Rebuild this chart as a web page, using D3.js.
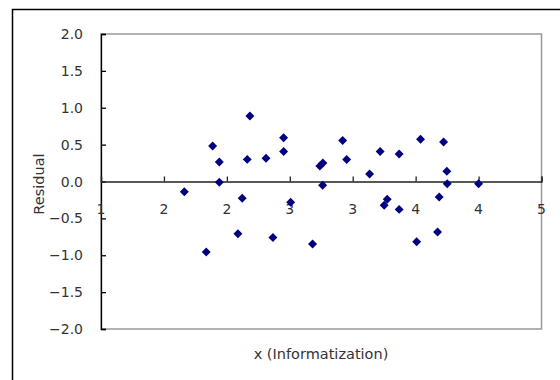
<!DOCTYPE html>
<html>
<head>
<meta charset="utf-8">
<script src="https://cdn.jsdelivr.net/npm/d3@7"></script>
<style>
  html, body { margin: 0; padding: 0; background: #fff; }
  svg { display: block; }
  text { font-family: "DejaVu Sans", Arial, sans-serif; fill: #333; }
</style>
</head>
<body>
<svg id="chart" width="560" height="380"></svg>
<script>
// residual plot data
const xValues = [1.662, 1.836, 1.887, 1.940, 1.940, 2.088, 2.122, 2.162, 2.183, 2.311,
                 2.366, 2.451, 2.451, 2.507, 2.681, 2.739, 2.763, 2.761, 2.920, 2.952,
                 3.134, 3.218, 3.250, 3.274, 3.369, 3.369, 3.508, 3.539, 3.674, 3.687,
                 3.722, 3.748, 3.751, 4.000];
const residuals = [-0.138, -0.955, 0.481, 0.264, -0.011, -0.708, -0.227, 0.300, 0.888, 0.314,
                   -0.759, 0.593, 0.408, -0.281, -0.847, 0.210, 0.251, -0.051, 0.556, 0.298,
                   0.102, 0.408, -0.322, -0.241, 0.373, -0.378, -0.816, 0.573, -0.685, -0.210,
                   0.536, 0.139, -0.030, -0.030];
const xTicks = [1, 1.5, 2, 2.5, 3, 3.5, 4, 4.5];
const yTicks = [-2, -1.5, -1, -0.5, 0, 0.5, 1, 1.5, 2];
const xTitle = "x (Informatization)";
const yTitle = "Residual";

const svg = d3.select("#chart");
const plot = {left: 101, right: 541.5, top: 34, bottom: 329};

const x = d3.scaleLinear().domain([1, 4.5]).range([plot.left, plot.right]);
const y = d3.scaleLinear().domain([-2, 2]).range([plot.bottom, plot.top]);

// outer chart frame (runs off the window right and bottom)
svg.append("path")
    .attr("d", "M12.5,390 L12.5,9.5 L570,9.5")
    .attr("fill", "none")
    .attr("stroke", "#000")
    .attr("stroke-width", 1.5);

// plot area border
svg.append("rect")
    .attr("x", plot.left)
    .attr("y", plot.top)
    .attr("width", plot.right - plot.left)
    .attr("height", plot.bottom - plot.top)
    .attr("fill", "none")
    .attr("stroke", "#999")
    .attr("stroke-width", 1.5);

// y axis, ticks pointing into the plot
let yAxis = svg.append("g")
    .attr("transform", "translate(" + plot.left + ",0)")
    .call(d3.axisRight(y).tickValues(yTicks).tickSize(5).tickFormat(""));
yAxis.selectAll("path, line").attr("stroke", "#000").attr("stroke-width", 1.3);

svg.append("g").selectAll("text")
    .data(yTicks)
    .enter().append("text")
    .attr("x", 83)
    .attr("y", d => y(d) + 5)
    .attr("text-anchor", "end")
    .attr("font-size", 14)
    .text(d => d3.format(".1f")(d).replace("-", "\u2212"));

// x axis drawn at residual = 0, ticks upward, labels rounded like the source
let xAxis = svg.append("g")
    .attr("transform", "translate(0," + y(0) + ")")
    .call(d3.axisTop(x).tickValues(xTicks).tickSize(5).tickFormat(""));
xAxis.selectAll("path, line").attr("stroke", "#222").attr("stroke-width", 1.3);

svg.append("g").selectAll("text")
    .data(xTicks)
    .enter().append("text")
    .attr("x", d => x(d))
    .attr("y", y(0) + 32)
    .attr("text-anchor", "middle")
    .attr("font-size", 14)
    .text(d => Math.round(d));

// markers
svg.append("g").selectAll("path.pt")
    .data(xValues.map((v, i) => [v, residuals[i]]))
    .enter().append("path")
    .classed("pt", true)
    .attr("d", d3.symbol().type(d3.symbolSquare).size(40))
    .attr("transform", d => "translate(" + x(d[0]) + "," + y(d[1]) + ") rotate(45)")
    .attr("fill", "#000080");

// titles
svg.append("text")
    .attr("x", 321)
    .attr("y", 359)
    .attr("text-anchor", "middle")
    .attr("font-size", 14.5)
    .text(xTitle);

svg.append("text")
    .attr("transform", "translate(44,184) rotate(-90)")
    .attr("text-anchor", "middle")
    .attr("font-size", 14.5)
    .text(yTitle);
</script>
</body>
</html>
